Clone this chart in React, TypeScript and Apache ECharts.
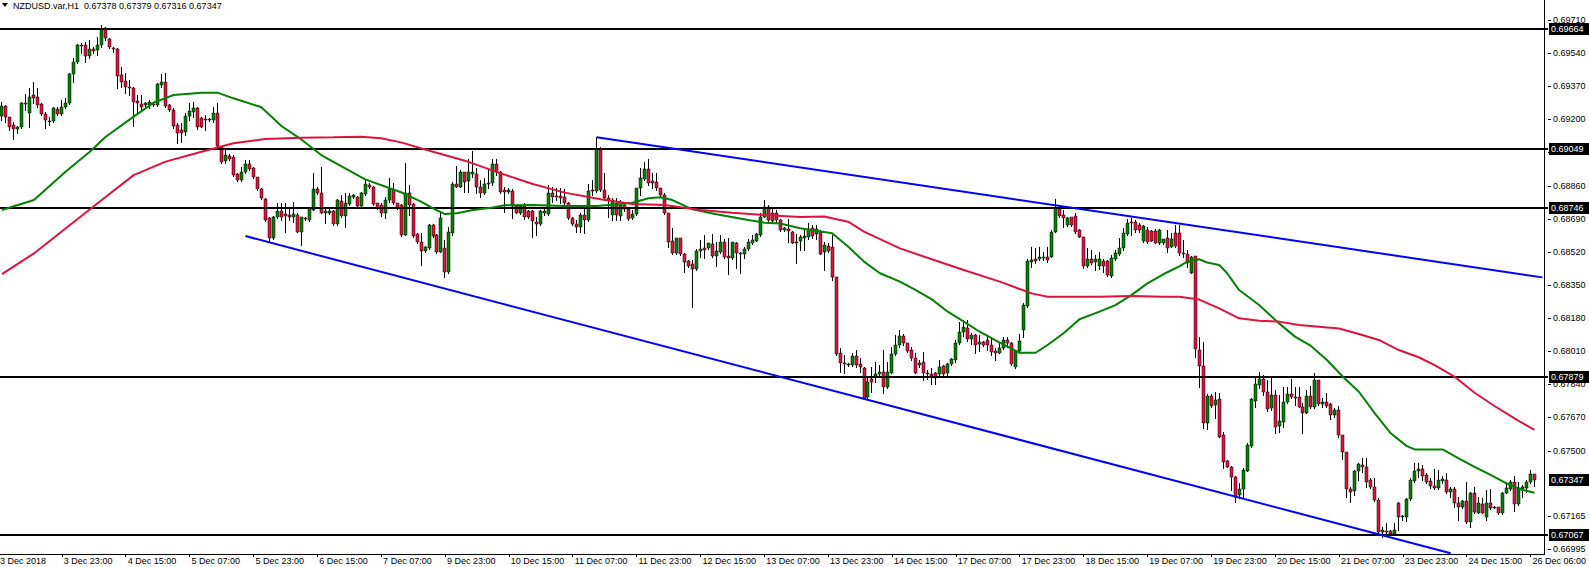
import React, { useEffect, useRef } from "react";
import * as echarts from "echarts";

// Candles: [open, high, low, close] in points (1e-5)
const candlesA: number[][] = [
  [69217, 69291, 69197, 69269], [69269, 69274, 69188, 69210], [69210, 69214, 69145, 69159], [69169, 69188, 69097, 69149],
  [69149, 69166, 69128, 69163], [69159, 69291, 69154, 69282], [69286, 69330, 69248, 69279], [69231, 69359, 69163, 69316],
  [69323, 69392, 69282, 69310], [69313, 69359, 69265, 69274], [69277, 69282, 69222, 69226], [69226, 69239, 69154, 69197],
  [69194, 69210, 69171, 69194], [69193, 69262, 69188, 69257], [69251, 69262, 69222, 69226], [69226, 69299, 69222, 69262],
  [69262, 69308, 69257, 69282], [69282, 69440, 69279, 69433], [69433, 69513, 69393, 69493], [69493, 69587, 69488, 69582],
  [69582, 69590, 69539, 69577], [69582, 69599, 69496, 69525], [69525, 69607, 69513, 69559], [69559, 69573, 69539, 69553],
  [69556, 69624, 69530, 69582], [69582, 69684, 69573, 69659], [69667, 69676, 69607, 69616], [69611, 69616, 69565, 69570],
  [69565, 69573, 69547, 69559], [69559, 69565, 69359, 69423], [69428, 69470, 69368, 69393], [69397, 69436, 69334, 69368],
  [69368, 69402, 69325, 69359], [69359, 69368, 69166, 69291], [69296, 69325, 69239, 69282], [69279, 69325, 69248, 69262],
  [69274, 69291, 69269, 69282], [69274, 69299, 69257, 69291], [69279, 69291, 69269, 69272], [69274, 69385, 69269, 69381],
  [69376, 69433, 69368, 69393], [69393, 69436, 69265, 69269], [69274, 69279, 69245, 69248], [69248, 69257, 69154, 69166],
  [69169, 69180, 69080, 69128], [69145, 69180, 69085, 69128], [69137, 69231, 69120, 69217], [69217, 69282, 69197, 69245],
  [69239, 69291, 69214, 69257], [69257, 69262, 69149, 69163], [69205, 69210, 69159, 69163], [69204, 69222, 69145, 69197],
  [69197, 69205, 69193, 69200], [69197, 69262, 69188, 69234], [69234, 69282, 69051, 69063], [69060, 69063, 68978, 68983],
  [68988, 69051, 68974, 69017], [69014, 69020, 68991, 68995], [69008, 69017, 68909, 68914], [68920, 68923, 68885, 68889],
  [68889, 68957, 68885, 68932], [68932, 68991, 68923, 68971], [68971, 68991, 68940, 68947], [68949, 68954, 68897, 68902],
  [68902, 68906, 68837, 68842], [68842, 68846, 68789, 68795], [68791, 68795, 68680, 68683], [68692, 68701, 68577, 68589],
  [68589, 68704, 68584, 68701], [68697, 68772, 68692, 68731], [68731, 68772, 68683, 68701], [68714, 68772, 68622, 68704],
  [68709, 68752, 68683, 68701], [68701, 68777, 68675, 68714], [68709, 68718, 68622, 68624], [68624, 68701, 68555, 68697],
  [68692, 68701, 68683, 68687], [68683, 68748, 68680, 68743], [68735, 68923, 68735, 68842], [68841, 68854, 68817, 68820],
  [68824, 68957, 68718, 68721], [68721, 68752, 68666, 68731], [68718, 68738, 68714, 68731], [68731, 68735, 68658, 68663],
  [68663, 68789, 68660, 68786], [68783, 68812, 68701, 68704], [68704, 68820, 68646, 68769], [68764, 68824, 68760, 68808],
  [68803, 68817, 68795, 68812], [68803, 68807, 68752, 68757], [68757, 68829, 68752, 68820], [68817, 68892, 68812, 68867],
  [68863, 68872, 68846, 68851], [68854, 68858, 68760, 68766], [68769, 68772, 68738, 68743], [68760, 68769, 68704, 68721],
  [68721, 68803, 68692, 68786], [68786, 68897, 68777, 68841], [68837, 68872, 68766, 68769], [68769, 68772, 68738, 68743],
];

const candlesB: number[][] = [
  [68760, 68766, 68601, 68606], [68606, 68974, 68604, 68820], [68820, 68863, 68709, 68760], [68766, 68769, 68598, 68601],
  [68612, 68615, 68567, 68572], [68572, 68615, 68453, 68526], [68526, 68550, 68521, 68543], [68538, 68663, 68533, 68658],
  [68658, 68663, 68598, 68601], [68606, 68612, 68516, 68521], [68521, 68718, 68518, 68692], [68538, 68581, 68393, 68418],
  [68418, 68649, 68410, 68620], [68615, 68880, 68606, 68868], [68868, 68961, 68851, 68855], [68855, 68940, 68851, 68928],
  [68928, 68932, 68829, 68880], [68885, 68995, 68829, 68932], [68920, 69038, 68906, 68932], [68920, 68949, 68820, 68851],
  [68855, 68889, 68803, 68824], [68824, 68897, 68817, 68868], [68868, 68940, 68846, 68875], [68872, 68995, 68863, 68971],
  [68971, 68995, 68914, 68932], [68932, 68937, 68824, 68829], [68837, 68855, 68726, 68829], [68829, 68846, 68820, 68837],
  [68834, 68841, 68692, 68755], [68755, 68760, 68718, 68721], [68721, 68760, 68714, 68755], [68755, 68769, 68687, 68701],
  [68731, 68735, 68692, 68697], [68731, 68735, 68598, 68680], [68675, 68701, 68606, 68663], [68663, 68735, 68660, 68731],
  [68718, 68738, 68709, 68731], [68714, 68863, 68709, 68820], [68820, 68855, 68778, 68803], [68807, 68846, 68786, 68800],
  [68807, 68846, 68769, 68795], [68800, 68841, 68760, 68769], [68769, 68778, 68687, 68692], [68692, 68697, 68658, 68663],
  [68663, 68683, 68624, 68646], [68646, 68718, 68624, 68709], [68709, 68760, 68615, 68683], [68683, 68868, 68680, 68834],
  [68837, 68889, 68812, 68831], [68834, 69108, 68829, 69046], [69046, 69060, 68834, 68837], [68837, 68923, 68786, 68795],
  [68795, 68812, 68701, 68786], [68709, 68795, 68683, 68786], [68772, 68795, 68683, 68709], [68706, 68786, 68683, 68760],
  [68760, 68772, 68731, 68738], [68738, 68743, 68683, 68687], [68692, 68735, 68687, 68713], [68714, 68849, 68711, 68846],
  [68846, 68949, 68812, 68897], [68892, 68983, 68889, 68944], [68944, 68995, 68863, 68872], [68884, 68926, 68846, 68875],
  [68880, 68923, 68837, 68846], [68846, 68849, 68807, 68812], [68812, 68820, 68714, 68718], [68718, 68721, 68547, 68572],
  [68577, 68641, 68509, 68512], [68512, 68593, 68509, 68589], [68589, 68589, 68504, 68509], [68509, 68516, 68418, 68470],
  [68473, 68478, 68444, 68449], [68458, 68478, 68235, 68432], [68432, 68533, 68427, 68524], [68526, 68581, 68495, 68533],
  [68538, 68606, 68487, 68530], [68538, 68567, 68535, 68564], [68560, 68612, 68495, 68499], [68499, 68572, 68449, 68524],
  [68521, 68606, 68512, 68569], [68569, 68584, 68487, 68495], [68499, 68589, 68405, 68487], [68487, 68572, 68483, 68569],
  [68567, 68572, 68435, 68516], [68516, 68521, 68410, 68509], [68509, 68543, 68487, 68533], [68533, 68584, 68530, 68569],
  [68567, 68606, 68560, 68581], [68577, 68615, 68574, 68610], [68607, 68721, 68603, 68701], [68701, 68786, 68697, 68748],
  [68748, 68760, 68680, 68683], [68718, 68738, 68675, 68680], [68718, 68735, 68675, 68683], [68683, 68687, 68629, 68632],
  [68632, 68646, 68627, 68641], [68636, 68687, 68572, 68629], [68624, 68627, 68564, 68567], [68567, 68612, 68464, 68572],
];

const candlesC: number[][] = [
  [68577, 68606, 68529, 68594], [68589, 68641, 68529, 68601], [68598, 68670, 68584, 68636], [68641, 68658, 68589, 68601],
  [68612, 68658, 68584, 68636], [68624, 68632, 68509, 68509], [68521, 68572, 68427, 68555], [68550, 68564, 68521, 68526],
  [68547, 68606, 68375, 68389], [68389, 68393, 67992, 67996], [67999, 68025, 67905, 67951], [67948, 67990, 67897, 67943],
  [67939, 67948, 67934, 67943], [67939, 67999, 67934, 67985], [67985, 68016, 67931, 67939], [67943, 67973, 67905, 67931],
  [67922, 67927, 67763, 67768], [67773, 67879, 67768, 67854], [67866, 67931, 67802, 67854], [67883, 67956, 67854, 67893],
  [67893, 67939, 67888, 67905], [67905, 68016, 67794, 67825], [67825, 67956, 67819, 67905], [67900, 68033, 67900, 67996],
  [67996, 68093, 67991, 68042], [68042, 68119, 68033, 68088], [68088, 68098, 68042, 68050], [68050, 68054, 68008, 68013],
  [68016, 68033, 67965, 67973], [67973, 67999, 67896, 67900], [67939, 67965, 67931, 67951], [67956, 68008, 67862, 67900],
  [67900, 67913, 67866, 67893], [67893, 67922, 67842, 67883], [67896, 67905, 67842, 67871], [67893, 67965, 67888, 67931],
  [67934, 67937, 67889, 67893], [67900, 67951, 67879, 67944], [67944, 67973, 67939, 67968], [67965, 68068, 67956, 68050],
  [68050, 68162, 68047, 68110], [68110, 68170, 68088, 68136], [68127, 68170, 68064, 68071], [68071, 68102, 68047, 68093],
  [68093, 68098, 68002, 68042], [68047, 68093, 68013, 68059], [68059, 68062, 68038, 68042], [68067, 68093, 68016, 68042],
  [68042, 68085, 67991, 68008], [68013, 68025, 67965, 68003], [68003, 68059, 67999, 68025], [68025, 68085, 68020, 68067],
  [68067, 68085, 68030, 68050], [68050, 68059, 67939, 67944], [67927, 68016, 67924, 68013], [68013, 68098, 68000, 68064],
  [68119, 68256, 68085, 68247], [68242, 68482, 68239, 68475], [68470, 68547, 68444, 68478], [68482, 68538, 68464, 68475],
  [68482, 68547, 68478, 68492], [68495, 68521, 68478, 68487], [68495, 68547, 68470, 68478], [68492, 68632, 68492, 68624],
  [68624, 68790, 68624, 68743], [68743, 68748, 68701, 68704], [68709, 68735, 68649, 68692], [68658, 68701, 68653, 68692],
  [68697, 68701, 68654, 68658], [68704, 68718, 68618, 68624], [68632, 68636, 68594, 68598], [68594, 68598, 68435, 68447],
  [68447, 68538, 68440, 68482], [68482, 68529, 68458, 68464], [68470, 68504, 68427, 68482], [68447, 68521, 68430, 68482],
  [68475, 68482, 68418, 68447], [68475, 68478, 68396, 68401], [68396, 68504, 68393, 68487], [68482, 68529, 68478, 68516],
  [68509, 68589, 68504, 68538], [68538, 68641, 68529, 68615], [68612, 68687, 68606, 68670], [68675, 68692, 68606, 68666],
  [68675, 68683, 68624, 68632], [68658, 68670, 68624, 68632], [68577, 68658, 68572, 68653], [68632, 68649, 68567, 68572],
  [68629, 68632, 68574, 68577], [68629, 68636, 68564, 68564], [68564, 68636, 68560, 68632], [68564, 68588, 68560, 68584],
  [68589, 68632, 68521, 68538], [68547, 68615, 68547, 68584], [68618, 68658, 68547, 68550], [68615, 68660, 68504, 68512],
  [68516, 68581, 68495, 68509], [68509, 68530, 68444, 68465], [68413, 68497, 68410, 68495], [68499, 68501, 67982, 68020],
];

const candlesD: number[][] = [
  [68016, 68085, 67828, 67934], [67934, 68059, 67614, 67643], [67640, 67790, 67609, 67780], [67780, 67790, 67725, 67729],
  [67734, 67802, 67665, 67760], [67763, 67794, 67568, 67571], [67580, 67597, 67409, 67443], [67448, 67452, 67414, 67417],
  [67417, 67421, 67298, 67363], [67363, 67370, 67238, 67263], [67272, 67332, 67255, 67301], [67301, 67409, 67263, 67400],
  [67397, 67537, 67397, 67529], [67524, 67768, 67520, 67763], [67756, 67879, 67725, 67842], [67837, 67905, 67820, 67866],
  [67866, 67888, 67785, 67802], [67802, 67862, 67705, 67712], [67717, 67871, 67708, 67785], [67785, 67811, 67592, 67623],
  [67626, 67785, 67597, 67654], [67649, 67828, 67623, 67751], [67751, 67828, 67742, 67790], [67790, 67866, 67768, 67773],
  [67772, 67828, 67734, 67777], [67777, 67828, 67722, 67725], [67725, 67742, 67592, 67695], [67695, 67811, 67691, 67780],
  [67780, 67831, 67717, 67722], [67722, 67896, 67717, 67862], [67862, 67864, 67734, 67739], [67738, 67768, 67725, 67748],
  [67748, 67794, 67725, 67731], [67739, 67742, 67660, 67683], [67683, 67717, 67674, 67708], [67708, 67729, 67571, 67580],
  [67580, 67582, 67455, 67491], [67491, 67493, 67263, 67303], [67303, 67315, 67238, 67289], [67294, 67400, 67272, 67397],
  [67397, 67434, 67349, 67431], [67426, 67460, 67392, 67414], [67414, 67460, 67311, 67340], [67349, 67357, 67306, 67315],
  [67315, 67357, 67243, 67246], [67246, 67255, 67079, 67084], [67084, 67109, 67058, 67092], [67089, 67130, 67067, 67084],
  [67087, 67092, 67068, 67072], [67072, 67126, 67067, 67092], [67229, 67238, 67092, 67157], [67157, 67169, 67144, 67164],
  [67157, 67255, 67140, 67250], [67250, 67357, 67246, 67349], [67345, 67434, 67340, 67397], [67393, 67434, 67366, 67407],
  [67404, 67426, 67349, 67370], [67375, 67387, 67332, 67340], [67345, 67357, 67306, 67318], [67318, 67404, 67301, 67306],
  [67306, 67400, 67301, 67349], [67345, 67370, 67332, 67352], [67349, 67383, 67281, 67289], [67289, 67315, 67263, 67301],
  [67301, 67315, 67212, 67229], [67229, 67263, 67144, 67212], [67212, 67246, 67204, 67243], [67243, 67340, 67127, 67135],
  [67135, 67289, 67109, 67281], [67281, 67315, 67178, 67186], [67181, 67263, 67178, 67233], [67226, 67255, 67178, 67181],
  [67157, 67298, 67144, 67229], [67229, 67301, 67202, 67204], [67212, 67216, 67206, 67210], [67209, 67212, 67174, 67178],
  [67178, 67289, 67174, 67284], [67284, 67340, 67281, 67306], [67301, 67349, 67298, 67340], [67340, 67369, 67191, 67226],
  [67226, 67340, 67221, 67306], [67301, 67323, 67263, 67311], [67306, 67349, 67289, 67340], [67340, 67400, 67335, 67380],
  [67378, 67379, 67316, 67347],
];

// Moving averages: [bar index, price in points]
const greenMA: number[][] = [
  [0, 68735], [8, 68786], [16, 68932], [22, 69034], [26, 69111], [33, 69214], [38, 69286], [43, 69325], [50, 69337],
  [54, 69337], [58, 69308], [65, 69262], [70, 69166], [75, 69097], [80, 69017], [86, 68949], [91, 68892], [100, 68826],
  [105, 68778], [108, 68743], [111, 68714], [114, 68718], [118, 68735], [123, 68748], [126, 68759], [133, 68760],
  [141, 68755], [149, 68755], [155, 68766], [158, 68772], [162, 68795], [165, 68800], [168, 68786], [173, 68738],
  [179, 68713], [187, 68683], [191, 68670], [195, 68666], [200, 68641], [208, 68615], [212, 68547], [216, 68470],
  [220, 68410], [225, 68367], [229, 68324], [233, 68276], [237, 68213], [241, 68162], [245, 68110], [250, 68054],
  [255, 68002], [259, 68002], [262, 68042], [266, 68102], [270, 68174], [275, 68213], [279, 68247], [283, 68298],
  [287, 68358], [291, 68405], [295, 68445], [297, 68470], [300, 68482], [302, 68465], [305, 68453], [307, 68410],
  [310, 68324], [315, 68247], [320, 68153], [324, 68085], [328, 68037], [332, 67965], [336, 67879], [340, 67802],
  [344, 67691], [348, 67589], [352, 67523], [354, 67506], [361, 67506], [365, 67460], [369, 67417], [373, 67375],
  [377, 67332], [381, 67298], [384, 67284],
];
const redMA: number[][] = [
  [0, 68406], [8, 68512], [16, 68641], [25, 68786], [33, 68914], [41, 68983], [50, 69034], [58, 69077], [66, 69099],
  [75, 69106], [83, 69108], [90, 69111], [95, 69103], [100, 69082], [108, 69034], [116, 68988], [125, 68923],
  [133, 68868], [141, 68824], [150, 68790], [158, 68766], [166, 68760], [175, 68735], [183, 68721], [191, 68709],
  [200, 68699], [206, 68701], [212, 68675], [216, 68624], [225, 68538], [233, 68482], [241, 68427], [250, 68367],
  [258, 68307], [262, 68290], [275, 68290], [283, 68293], [291, 68290], [295, 68290], [300, 68275], [305, 68230],
  [310, 68179], [315, 68167], [320, 68162], [325, 68145], [330, 68136], [335, 68127], [340, 68098], [345, 68068],
  [350, 68016], [355, 67979], [359, 67939], [364, 67879], [369, 67797], [374, 67729], [379, 67665], [384, 67606],
];

const upperTrend: number[][] = [[149, 69108], [386, 68389]];
const lowerTrend: number[][] = [[61, 68601], [363, 66973]];
const levels = [69664, 69049, 68746, 67879, 67067];
const lastPrice = 67347;
const priceTicks = [69710, 69540, 69370, 69200, 69030, 68860, 68690, 68520, 68350, 68180, 68010, 67840, 67670, 67500, 67165, 66995];
const timeLabels = [
  "3 Dec 23:00", "4 Dec 15:00", "5 Dec 07:00", "5 Dec 23:00", "6 Dec 15:00", "7 Dec 07:00", "9 Dec 23:00", "10 Dec 15:00",
  "11 Dec 07:00", "11 Dec 23:00", "12 Dec 15:00", "13 Dec 07:00", "13 Dec 23:00", "14 Dec 15:00", "17 Dec 07:00",
  "17 Dec 23:00", "18 Dec 15:00", "19 Dec 07:00", "19 Dec 23:00", "20 Dec 15:00", "21 Dec 07:00", "23 Dec 23:00",
  "24 Dec 15:00", "26 Dec 06:00",
];
const firstTimeLabel = "3 Dec 2018";
const titleText = "NZDUSD.var,H1  0.67378 0.67379 0.67316 0.67347";

const FIRST_LABEL_BAR = 15;
const BARS_PER_LABEL = 16;
const EXTRA_BARS = 2;
const FONT = "'Liberation Sans', Arial, sans-serif";
const BULL = "#008000";
const BEAR = "#dc143c";

const W = 1589;
const H = 567;
const PLOT_W = 1548;
const PLOT_H = 554;

export default function App() {
  const ref = useRef<HTMLDivElement>(null);
  useEffect(() => {
    document.body.style.margin = "0";
    const el = ref.current!;
    const chart = echarts.init(el, undefined, { renderer: "svg", width: W, height: H });
    const candles = [...candlesA, ...candlesB, ...candlesC, ...candlesD];
    const nCats = candles.length + EXTRA_BARS;
    const catLabels: string[] = [];
    for (let i = 0; i < nCats; i++) catLabels.push("");
    timeLabels.forEach((t, k) => {
      const idx = FIRST_LABEL_BAR + BARS_PER_LABEL * k;
      if (idx < nCats) catLabels[idx] = t;
    });
    const cats = catLabels.map((_, i) => String(i));
    const p = (v: number) => v / 100000;
    const cData = candles.map(([o, h, l, c], i) => [i, p(o), p(h), p(l), p(c)]);
    const lineData = (arr: number[][]) => arr.map(([i, v]) => [i, p(v)]);

    // y range: 0.69710 at y=20, 19484 px per unit
    const pxPerUnit = 19484;
    const yMax = 0.6971 + 20 / pxPerUnit;
    const yMin = 0.6971 - (PLOT_H - 20) / pxPerUnit;

    chart.setOption({
      animation: false,
      backgroundColor: "#ffffff",
      grid: { left: 0, top: 0, width: PLOT_W, height: PLOT_H, containLabel: false },
      xAxis: {
        type: "category",
        data: cats,
        boundaryGap: true,
        axisLine: { show: true, lineStyle: { color: "#000", width: 1 } },
        axisTick: {
          show: true,
          alignWithLabel: true,
          length: 3,
          interval: (i: number) => catLabels[i] !== "",
          lineStyle: { color: "#000" },
        },
        axisLabel: {
          show: true,
          interval: (i: number) => catLabels[i] !== "",
          formatter: (_v: string, i: number) => catLabels[i],
          align: "left",
          margin: 2,
          padding: [0, 0, 0, 2],
          fontSize: 9,
          fontFamily: FONT,
          color: "#000",
        },
        splitLine: { show: false },
      },
      yAxis: {
        type: "value",
        position: "right",
        min: yMin,
        max: yMax,
        scale: true,
        axisLine: { show: true, lineStyle: { color: "#000", width: 1 } },
        axisTick: { show: false },
        axisLabel: { show: false },
        splitLine: { show: false },
      },
      series: [
        {
          type: "custom",
          data: cData,
          encode: { x: 0, y: [1, 2, 3, 4] },
          z: 2,
          renderItem: (_params: any, api: any) => {
            const j = api.value(0);
            const o = api.value(1);
            const h = api.value(2);
            const l = api.value(3);
            const c = api.value(4);
            const pO = api.coord([j, o]);
            const pH = api.coord([j, h]);
            const pL = api.coord([j, l]);
            const pC = api.coord([j, c]);
            const cx = Math.floor(pO[0]);
            const top = Math.round(Math.min(pO[1], pC[1]));
            const bot = Math.round(Math.max(pO[1], pC[1]));
            const bull = c >= o;
            return {
              type: "group",
              children: [
                {
                  type: "line",
                  shape: { x1: cx + 0.5, y1: Math.round(pH[1]), x2: cx + 0.5, y2: Math.round(pL[1]) + 1 },
                  style: { stroke: "#000", lineWidth: 1 },
                },
                {
                  type: "rect",
                  shape: { x: cx - 1, y: top, width: 3, height: Math.max(bot - top, 1) },
                  style: { fill: bull ? BULL : BEAR, stroke: "#000", lineWidth: 0.5 },
                },
              ],
            };
          },
        },
        {
          type: "line",
          data: lineData(greenMA),
          showSymbol: false,
          symbol: "none",
          z: 4,
          lineStyle: { color: "#008000", width: 2 },
        },
        {
          type: "line",
          data: lineData(redMA),
          showSymbol: false,
          symbol: "none",
          z: 4,
          lineStyle: { color: "#dc143c", width: 2 },
        },
        {
          type: "line",
          data: lineData(upperTrend),
          showSymbol: false,
          symbol: "none",
          z: 5,
          lineStyle: { color: "#0000ff", width: 2 },
        },
        {
          type: "line",
          data: lineData(lowerTrend),
          showSymbol: false,
          symbol: "none",
          z: 5,
          lineStyle: { color: "#0000ff", width: 2 },
        },
      ],
    });

    const gy = (v: number) => chart.convertToPixel({ yAxisIndex: 0 }, p(v)) as number;
    const elements: any[] = [];
    // horizontal level lines
    levels.forEach((v) => {
      const y = Math.round(gy(v));
      elements.push({
        type: "line",
        shape: { x1: 0, y1: y, x2: PLOT_W, y2: y },
        style: { stroke: "#000", lineWidth: 2 },
        z: 3,
      });
    });
    priceTicks.forEach((t) => {
      const y = Math.round(gy(t));
      elements.push({
        type: "line",
        shape: { x1: PLOT_W, y1: y + 0.5, x2: PLOT_W + 3, y2: y + 0.5 },
        style: { stroke: "#000", lineWidth: 1 },
        z: 10,
      });
      elements.push({
        type: "text",
        x: PLOT_W + 5,
        y: y,
        style: {
          text: (t / 100000).toFixed(5),
          fontSize: 9,
          fontFamily: FONT,
          fill: "#000",
          verticalAlign: "middle",
          align: "left",
        },
        z: 10,
      });
    });
    const box = (v: number) => {
      const y = Math.round(gy(v));
      elements.push({
        type: "rect",
        shape: { x: PLOT_W + 1, y: y - 6, width: 40, height: 12 },
        style: { fill: "#000" },
        z: 20,
      });
      elements.push({
        type: "text",
        x: PLOT_W + 3,
        y: y,
        style: {
          text: (v / 100000).toFixed(5),
          fontSize: 9,
          fontFamily: FONT,
          fill: "#fff",
          verticalAlign: "middle",
          align: "left",
        },
        z: 21,
      });
    };
    levels.forEach(box);
    box(lastPrice);

    // title
    elements.push({
      type: "polygon",
      shape: { points: [[2, 3], [8, 3], [5, 7]] },
      style: { fill: "#000" },
      z: 30,
    });
    elements.push({
      type: "text",
      x: 13,
      y: 6,
      style: {
        text: titleText,
        fontSize: 9,
        fontFamily: FONT,
        fill: "#000",
        verticalAlign: "middle",
        align: "left",
      },
      z: 30,
    });
    // first date label at the left edge
    elements.push({
      type: "text",
      x: 0,
      y: PLOT_H + 2,
      style: {
        text: firstTimeLabel,
        fontSize: 9,
        fontFamily: FONT,
        fill: "#000",
        verticalAlign: "top",
        align: "left",
      },
      z: 30,
    });
    chart.setOption({ graphic: { elements } });

    return () => chart.dispose();
  }, []);
  return <div ref={ref} style={{ width: W, height: H }} />;
}
